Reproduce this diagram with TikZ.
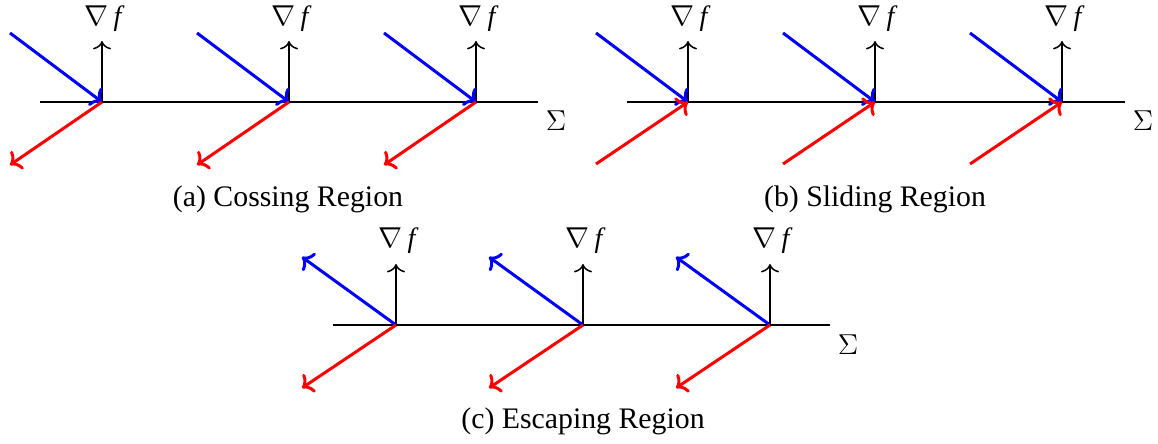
\documentclass[tikz,border=0pt]{standalone}
\usepackage{fontspec}
\setmainfont{Liberation Serif}
\usetikzlibrary{arrows.meta}
\begin{document}
\begin{tikzpicture}[x=0.5pt,y=-0.5pt,
  surf/.style={draw=black,line width=0.75pt},
  grad/.style={draw=black,line width=0.75pt,-{Computer Modern Rightarrow[length=4.2pt,width=9pt]}},
  bluevec/.style={draw=blue,line width=1.5pt,-{Computer Modern Rightarrow[length=5pt,width=11pt]}},
  redvec/.style={draw=red,line width=1.5pt,-{Computer Modern Rightarrow[length=5pt,width=11pt]}},
  lbl/.style={inner sep=0pt,font=\fontsize{14}{17}\selectfont},
  captxt/.style={inner sep=0pt,font=\fontsize{14.9}{18}\selectfont}]
\useasboundingbox (0,0) rectangle (1158,444);
% ---------- (a) ----------
\coordinate (aL) at (40,102); \coordinate (aR) at (538,102);
\draw[surf] (aL) -- (aR);
\node[lbl] (aS) at (556,121) {$\Sigma$};
\foreach \i/\x in {1/102,2/289,3/476}{
  \coordinate (a\i) at (\x,102);
  \coordinate (a\i g) at (\x,41);
  \coordinate (a\i b) at (\x-92,33);
  \coordinate (a\i r) at (\x-92,165);
  \node[lbl] (a\i n) at (\x+1,19) {$\nabla\,\textit{f}$};
  \draw[grad] (a\i) -- (a\i g);
  \draw[bluevec] (a\i b) -- (a\i);
  \draw[redvec] (a\i) -- (a\i r);
}
\node[captxt] (acap) at (288,199) {(a) Cossing Region};
% ---------- (b) ----------
\coordinate (bL) at (627,102); \coordinate (bR) at (1125,102);
\draw[surf] (bL) -- (bR);
\node[lbl] (bS) at (1143,121) {$\Sigma$};
\foreach \i/\x in {1/688,2/875,3/1062}{
  \coordinate (b\i) at (\x,102);
  \coordinate (b\i g) at (\x,41);
  \coordinate (b\i b) at (\x-92,33);
  \coordinate (b\i r) at (\x-92,164);
  \node[lbl] (b\i n) at (\x+1,19) {$\nabla\,\textit{f}$};
  \draw[grad] (b\i) -- (b\i g);
  \draw[bluevec] (b\i b) -- (b\i);
  \draw[redvec] (b\i r) -- (b\i);
}
\node[captxt] (bcap) at (875,199) {(b) Sliding Region};
% ---------- (c) ----------
\coordinate (cL) at (333,325); \coordinate (cR) at (830,325);
\draw[surf] (cL) -- (cR);
\node[lbl] (cS) at (848,345) {$\Sigma$};
\foreach \i/\x in {1/396,2/583,3/770}{
  \coordinate (c\i) at (\x,325);
  \coordinate (c\i g) at (\x,264);
  \coordinate (c\i b) at (\x-94,257);
  \coordinate (c\i r) at (\x-94,388);
  \node[lbl] (c\i n) at (\x+1,241) {$\nabla\,\textit{f}$};
  \draw[grad] (c\i) -- (c\i g);
  \draw[bluevec] (c\i) -- (c\i b);
  \draw[redvec] (c\i) -- (c\i r);
}
\node[captxt] (ccap) at (583,421) {(c) Escaping Region};
\end{tikzpicture}
\end{document}
